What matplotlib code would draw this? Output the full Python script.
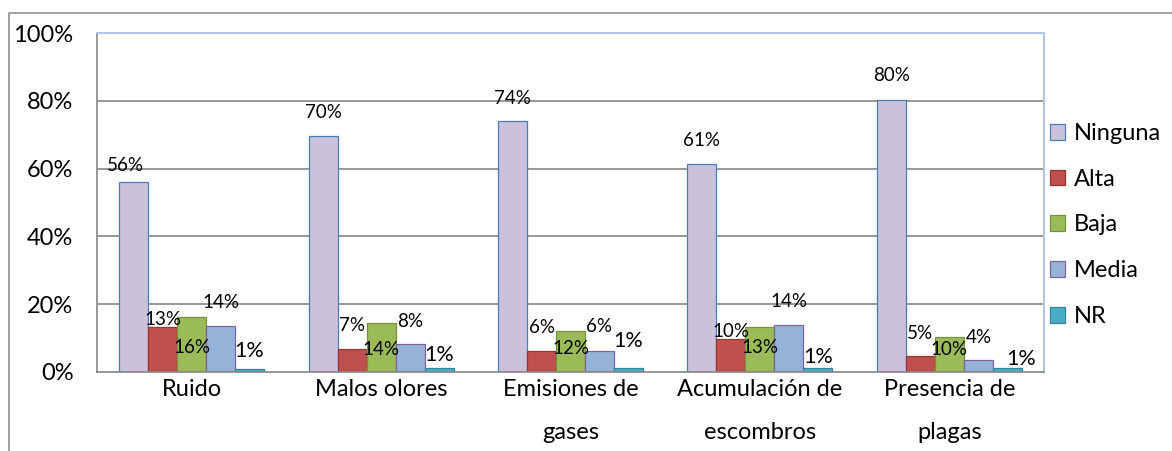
import matplotlib
matplotlib.use("Agg")
import matplotlib.pyplot as plt
from matplotlib.lines import Line2D
from matplotlib.patches import Patch
import numpy as np

plt.rcParams['font.family'] = ['Lato', 'DejaVu Sans']

categories = ["Ruido", "Malos olores", "Emisiones de\ngases", "Acumulación de\nescombros", "Presencia de\nplagas"]
series_names = ["Ninguna", "Alta", "Baja", "Media", "NR"]
ninguna = [56.0, 69.6, 74.0, 61.4, 80.2]
alta = [13.4, 6.8, 6.3, 9.7, 4.7]
baja = [16.2, 14.4, 12.1, 13.4, 10.3]
media = [13.7, 8.3, 6.2, 13.9, 3.6]
nr = [1.0, 1.1, 1.3, 1.1, 1.1]
yticks = [0, 20, 40, 60, 80, 100]

series = [ninguna, alta, baja, media, nr]
face = ["#ccc1da", "#c0504d", "#9bbb59", "#95b3d7", "#4bacc6"]
edge = ["#4a7ebb", "#943634", "#76923c", "#7f63a1", "#31859c"]
# label offsets from bar top in pixels (dy up positive), dx
lab_dy = [[17, 24, 23, 23, 25],
          [7, 23, 23, 8, 23],
          [-30, -26, -18, -21, -12],
          [23, 22, 24, 23, 22],
          [18, 13, 27, 11, 9]]
lab_dx = [[-8, 0, 0, 0, 0],
          [0, 0, 0, 0, 0],
          [0, 0, 0, 0, 0],
          [0, 0, 0, 0, 0],
          [0, 0, 0, 0, 14]]
lab_fs = [13.5, 13.5, 13.5, 13.5, 15.5]

W, H = 1172, 451
fig = plt.figure(figsize=(W / 100, H / 100), dpi=100)
ax = fig.add_axes([97 / W, 1 - 372 / H, (1044 - 97) / W, (372 - 33) / H])

n = len(series)
bw = 0.153
x = np.arange(len(categories))
grid_c = "#868686"
for yv in yticks[1:-1]:
    ax.axhline(yv, color=grid_c, lw=1.2, zorder=0)

px2pt = 0.72
for i, (vals, fc, ec) in enumerate(zip(series, face, edge)):
    xs = x + (i - (n - 1) / 2) * bw
    ax.bar(xs, vals, width=bw, color=fc, edgecolor=ec, linewidth=0.9, zorder=2, label=series_names[i])
    for j, (xx, v) in enumerate(zip(xs, vals)):
        ax.annotate(f"{round(v)}%", (xx, v), xytext=(lab_dx[i][j] * px2pt, lab_dy[i][j] * px2pt),
                    textcoords="offset points", ha="center", va="center",
                    fontsize=lab_fs[i], color="black", zorder=5)

ax.set_xlim(-0.5, len(categories) - 0.5)
ax.set_ylim(0, 100)
ax.set_yticks(yticks)
ax.set_yticklabels([f"{v}%" for v in yticks], fontsize=17)
ax.set_xticks(x)
ax.set_xticklabels(categories, fontsize=17, linespacing=2.3)
ax.tick_params(axis="both", length=0)
ax.tick_params(axis="y", pad=17)
ax.tick_params(axis="x", pad=5)
for s in ["left", "bottom"]:
    ax.spines[s].set_color(grid_c)
    ax.spines[s].set_linewidth(1.2)
for s in ["top", "right"]:
    ax.spines[s].set_color("#b3c6e7")
    ax.spines[s].set_linewidth(1.5)

handles = [Patch(facecolor=fc, edgecolor=ec, linewidth=0.9) for fc, ec in zip(face, edge)]
fig.legend(handles, series_names, loc="center left", bbox_to_anchor=(1050 / W, 1 - 225 / H),
           frameon=False, fontsize=17, handlelength=0.65, handleheight=0.65,
           handletextpad=0.35, labelspacing=1.05, borderaxespad=0, borderpad=0)

# outer chart border
fig.add_artist(Line2D([9.5 / W, 9.5 / W, 1.0], [-0.05, 1 - 12.5 / H, 1 - 12.5 / H],
                      transform=fig.transFigure, color=grid_c, lw=1.1))

fig.savefig("out.png", dpi=100)
